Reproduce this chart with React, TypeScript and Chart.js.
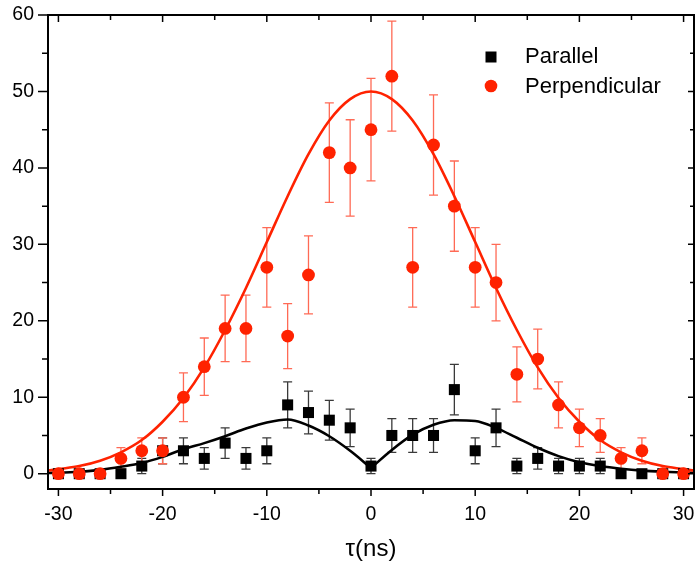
import React, { useEffect, useRef } from 'react';
import { Chart, registerables } from 'chart.js';

Chart.register(...registerables);

// ---- data ----
const tau = [-30, -28, -26, -24, -22, -20, -18, -16, -14, -12, -10, -8, -6, -4, -2, 0, 2, 4, 6, 8, 10, 12, 14, 16, 18, 20, 22, 24, 26, 28, 30];

const parallel = [0, 0, 0, 0, 1, 3, 3, 2, 4, 2, 3, 9, 8, 7, 6, 1, 5, 5, 5, 11, 3, 6, 1, 2, 1, 1, 1, 0, 0, 0, 0];
const parallelErr = [0, 0, 0, 0, 1, 1.7, 1.7, 1.4, 2, 1.4, 1.7, 3, 2.8, 2.6, 2.45, 1, 2.2, 2.2, 2.2, 3.3, 1.7, 2.45, 1, 1.4, 1, 1, 1, 0, 0, 0, 0];

const perpendicular = [0, 0, 0, 2, 3, 3, 10, 14, 19, 19, 27, 18, 26, 42, 40, 45, 52, 27, 43, 35, 27, 25, 13, 15, 9, 6, 5, 2, 3, 0, 0];
const perpendicularErr = [0, 0, 0, 1.4, 1.7, 1.7, 3.2, 3.75, 4.35, 4.35, 5.2, 4.25, 5.1, 6.5, 6.3, 6.7, 7.2, 5.2, 6.55, 5.9, 5.2, 5, 3.6, 3.9, 3, 2.45, 2.2, 1.4, 1.7, 0, 0];

// fit curves
const perpFitX = [-31, -30, -28, -26, -24, -22, -20, -18, -16, -14, -12, -10, -8, -6, -4, -2, 0, 2, 4, 6, 8, 10, 12, 14, 16, 18, 20, 22, 24, 26, 28, 30, 31];
const perpFitY = [0.4, 0.6, 1.0, 1.7, 2.8, 4.4, 6.8, 9.9, 13.9, 18.8, 24.3, 30.3, 36.3, 41.8, 46.2, 49.0, 50.0, 49.0, 46.2, 41.8, 36.3, 30.3, 24.3, 18.8, 13.9, 9.9, 6.8, 4.4, 2.8, 1.7, 1.0, 0.6, 0.4];

const parFitLeftX = [-31, -30, -28, -26, -24, -22, -20, -18, -16, -14, -12, -10, -8, -6, -4, -2, 0];
const parFitLeftY = [0.1, 0.13, 0.26, 0.5, 0.9, 1.4, 2.2, 3.2, 4.0, 4.9, 5.9, 6.7, 7.1, 6.3, 4.9, 3.0, 0.75];
const parFitRightX = [0, 2, 4, 6, 8, 10, 12, 14, 16, 18, 20, 22, 24, 26, 28, 30, 31];
const parFitRightY = [0.75, 3.1, 5.1, 6.4, 7.0, 6.9, 6.0, 4.7, 3.4, 2.3, 1.5, 1.0, 0.65, 0.4, 0.25, 0.15, 0.12];

const xTickValues = [-30, -25, -20, -15, -10, -5, 0, 5, 10, 15, 20, 25, 30];
const yTickValues = [0, 5, 10, 15, 20, 25, 30, 35, 40, 45, 50, 55, 60];

const legendLabels = ['Parallel', 'Perpendicular'];

const RED = '#ff2200';
const RED_ERR = '#ff6a55';
const BLACK = '#000000';
const BLACK_ERR = '#3a3a3a';
const FONT = 'Arial, "Liberation Sans", sans-serif';

const pts = (xs: number[], ys: number[]) => xs.map((x, i) => ({ x, y: ys[i] }));

// keep the plot frame flush with the right edge (2px margin), like the reference
const areaPlugin = {
  id: 'areaFix',
  afterLayout(chart: any) {
    const r = chart.width - 2;
    const a = chart.chartArea;
    a.right = r;
    a.width = r - a.left;
    const xs = chart.scales.x;
    xs.right = r;
    xs.width = r - xs.left;
    if (typeof xs.configure === 'function') xs.configure();
  },
};

const errorBarPlugin = {
  id: 'errorBars',
  beforeDatasetsDraw(chart: any) {
    const { ctx, scales } = chart;
    const xs = scales.x;
    const ys = scales.y;
    const sets = [
      { v: parallel, e: parallelErr, c: BLACK_ERR },
      { v: perpendicular, e: perpendicularErr, c: RED_ERR },
    ];
    ctx.save();
    ctx.lineWidth = 1.3;
    sets.forEach((s) => {
      ctx.strokeStyle = s.c;
      tau.forEach((t, i) => {
        const err = s.e[i];
        if (!err) return;
        const px = xs.getPixelForValue(t);
        const top = ys.getPixelForValue(s.v[i] + err);
        const bot = ys.getPixelForValue(s.v[i] - err);
        ctx.beginPath();
        ctx.moveTo(px, top);
        ctx.lineTo(px, bot);
        ctx.moveTo(px - 4.5, top);
        ctx.lineTo(px + 4.5, top);
        ctx.moveTo(px - 4.5, bot);
        ctx.lineTo(px + 4.5, bot);
        ctx.stroke();
      });
    });
    ctx.restore();
  },
};

const framePlugin = {
  id: 'frame',
  afterDraw(chart: any) {
    const { ctx, chartArea: a, scales } = chart;
    ctx.save();
    ctx.strokeStyle = '#000';
    ctx.lineWidth = 2;
    ctx.strokeRect(a.left, a.top, a.right - a.left, a.bottom - a.top);
    ctx.lineWidth = 1.5;
    ctx.beginPath();
    xTickValues.forEach((v) => {
      const px = scales.x.getPixelForValue(v);
      const major = v % 10 === 0;
      const len = major ? 7 : 5;
      ctx.moveTo(px, a.bottom);
      ctx.lineTo(px, a.bottom + len);
      ctx.moveTo(px, a.top);
      ctx.lineTo(px, a.top + len);
    });
    yTickValues.forEach((v) => {
      const py = scales.y.getPixelForValue(v);
      const major = v % 10 === 0;
      ctx.moveTo(a.left, py);
      ctx.lineTo(a.left - (major ? 10 : 6), py);
      ctx.moveTo(a.right, py);
      ctx.lineTo(a.right - (major ? 6 : 4), py);
    });
    ctx.stroke();

    // legend
    const lx = a.right - 203;
    const row1 = a.top + 42;
    const row2 = a.top + 71;
    ctx.fillStyle = BLACK;
    ctx.fillRect(lx - 5.5, row1 - 5.5, 11, 11);
    ctx.fillStyle = RED;
    ctx.beginPath();
    ctx.arc(lx, row2, 6.3, 0, Math.PI * 2);
    ctx.fill();
    ctx.fillStyle = '#000';
    ctx.font = `22px ${FONT}`;
    ctx.textBaseline = 'alphabetic';
    ctx.textAlign = 'left';
    ctx.fillText(legendLabels[0], lx + 34, row1 + 5.5);
    ctx.fillText(legendLabels[1], lx + 34, row2 + 6.5);
    ctx.restore();
  },
};

export default function App() {
  const ref = useRef<HTMLCanvasElement | null>(null);

  useEffect(() => {
    document.body.style.margin = '0';
    const canvas = ref.current;
    if (!canvas) return;
    const chart = new Chart(canvas, {
      type: 'scatter',
      data: {
        datasets: [
          {
            type: 'scatter',
            label: legendLabels[1],
            data: pts(tau, perpendicular),
            pointStyle: 'circle',
            pointRadius: 6.4,
            backgroundColor: RED,
            borderWidth: 0,
            order: 0,
          } as any,
          {
            type: 'scatter',
            label: legendLabels[0],
            data: pts(tau, parallel),
            pointStyle: 'rect',
            pointRadius: 7.8,
            backgroundColor: BLACK,
            borderWidth: 0,
            order: 1,
          } as any,
          {
            type: 'line',
            label: 'perpFit',
            data: pts(perpFitX, perpFitY),
            borderColor: RED,
            borderWidth: 2.6,
            pointRadius: 0,
            cubicInterpolationMode: 'monotone',
            fill: false,
            order: 2,
          } as any,
          {
            type: 'line',
            label: 'parFitL',
            data: pts(parFitLeftX, parFitLeftY),
            borderColor: BLACK,
            borderWidth: 2.6,
            pointRadius: 0,
            cubicInterpolationMode: 'monotone',
            fill: false,
            order: 3,
          } as any,
          {
            type: 'line',
            label: 'parFitR',
            data: pts(parFitRightX, parFitRightY),
            borderColor: BLACK,
            borderWidth: 2.6,
            pointRadius: 0,
            cubicInterpolationMode: 'monotone',
            fill: false,
            order: 3,
          } as any,
        ],
      },
      options: {
        animation: false,
        responsive: false,
        devicePixelRatio: 1,
        layout: { padding: { top: 15, right: 2, left: 0, bottom: 0 } },
        plugins: {
          legend: { display: false },
          tooltip: { enabled: false },
        },
        scales: {
          x: {
            type: 'linear',
            min: -31,
            max: 31,
            grid: { display: false, drawTicks: false },
            border: { display: false },
            afterBuildTicks: (s: any) => {
              s.ticks = xTickValues.map((v) => ({ value: v }));
            },
            afterFit: (s: any) => {
              s.height = 78;
              s.paddingLeft = 0;
              s.paddingRight = 0;
            },
            ticks: {
              autoSkip: false,
              maxRotation: 0,
              padding: 14,
              color: '#000',
              font: { size: 19.5, family: FONT },
              callback: (v: any) => (Number(v) % 10 === 0 ? String(v) : ''),
            },
            title: {
              display: true,
              text: 'τ(ns)',
              color: '#000',
              font: { size: 24, family: FONT },
              padding: { top: 4, bottom: 3 },
            },
          },
          y: {
            type: 'linear',
            min: -2,
            max: 60,
            grid: { display: false, drawTicks: false },
            border: { display: false },
            afterBuildTicks: (s: any) => {
              s.ticks = yTickValues.map((v) => ({ value: v }));
            },
            afterFit: (s: any) => {
              s.width = 48;
              s.paddingTop = 0;
              s.paddingBottom = 0;
            },
            ticks: {
              autoSkip: false,
              padding: 14,
              color: '#000',
              font: { size: 19.5, family: FONT },
              callback: (v: any) => (Number(v) % 10 === 0 ? String(v) : ''),
            },
          },
        },
      } as any,
      plugins: [areaPlugin, errorBarPlugin, framePlugin],
    });
    return () => chart.destroy();
  }, []);

  return (
    <div style={{ width: 696, height: 567 }}>
      <canvas ref={ref} width={696} height={567} style={{ display: 'block' }} />
    </div>
  );
}
